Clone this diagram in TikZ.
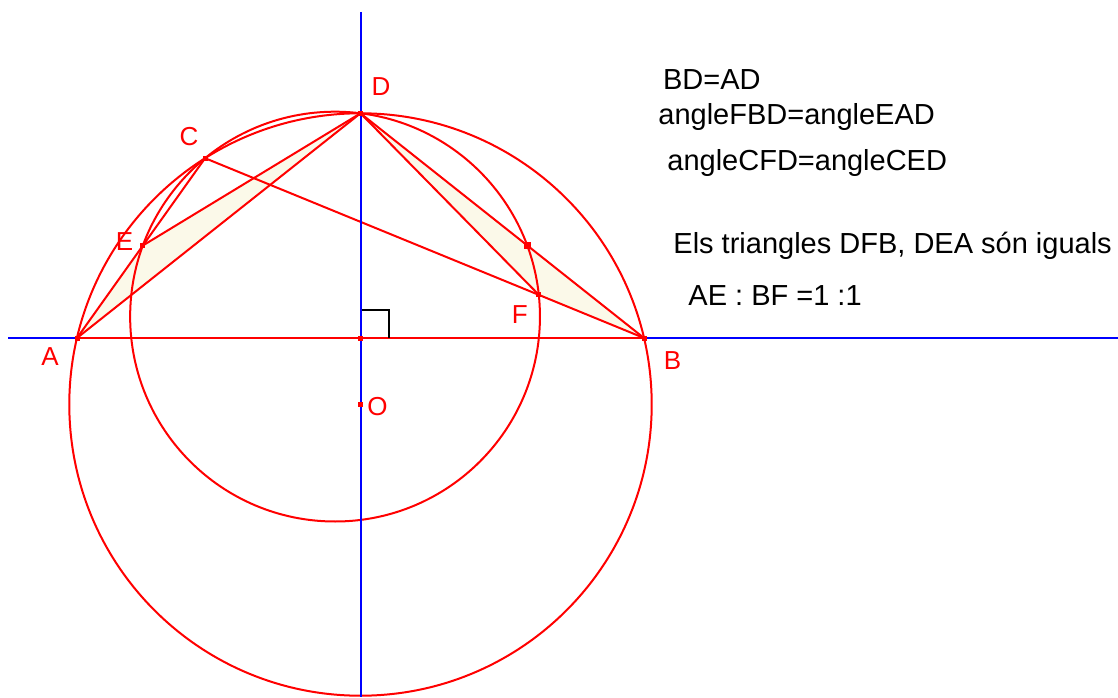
\documentclass[tikz,border=0pt]{standalone}
\usepackage{fontspec}
\setmainfont{Liberation Sans}
\definecolor{geored}{RGB}{255,0,0}
\definecolor{geoblue}{RGB}{0,0,255}
\definecolor{fillyel}{RGB}{251,249,233}
\begin{document}
\begin{tikzpicture}[x=0.5pt,y=0.5pt,
  redline/.style={draw=geored,line width=1pt,line join=round},
  axisline/.style={draw=geoblue,line width=1pt},
  pt/.style={rectangle,fill=geored,inner sep=0pt,minimum size=2.5pt},
  bigpt/.style={rectangle,fill=geored,inner sep=0pt,minimum size=3.5pt},
  lbl/.style={text=geored,font=\fontsize{13}{15}\selectfont,inner sep=0pt},
  txt/.style={anchor=base west,inner sep=0pt,font=\fontsize{14.5}{17}\selectfont},
  tri/.style={fill=fillyel},
  rightmark/.style={draw=black,line width=1pt}]
\useasboundingbox (0,0) rectangle (1118,697);
% points
\coordinate (O) at (360.5,292.5);
\coordinate (A) at (77,359);
\coordinate (B) at (644,359);
\coordinate (D) at (360.5,583.7);
\coordinate (C) at (205.1,538.8);
\coordinate (E) at (142.9,451.5);
\coordinate (F) at (538.9,402.1);
\coordinate (G) at (527.2,451.6);
\coordinate (M) at (360.5,359);
\coordinate (P) at (335.05,380.4);
% axis ends
\coordinate (HL) at (8,359);
\coordinate (HR) at (1118,359);
\coordinate (VT) at (360.5,685);
\coordinate (VB) at (360.5,0);
% right angle mark corners
\coordinate (R1) at (360.5,387);
\coordinate (R2) at (389,387);
\coordinate (R3) at (389,359);
% filled triangles
\fill[tri] (D) -- (E) -- (A) -- cycle;
\fill[tri] (D) -- (F) -- (B) -- cycle;
% horizontal axis
\draw[axisline] (HL) -- (HR);
% circles
\draw[redline] (O) circle[radius=291.2];
\draw[redline] (P) circle[radius=204.9];
% segments
\draw[redline] (A) -- (B);
\draw[redline] (A) -- (D) -- (B);
\draw[redline] (A) -- (E) -- (D) -- (F) -- (B);
\draw[redline] (C) -- (E);
\draw[redline] (C) -- (F);
% right angle
\draw[rightmark] (R1) -- (R2) -- (R3);
% vertical axis
\draw[axisline] (VT) -- (VB);
% point markers
\node[pt] at (A) {};
\node[pt] at (B) {};
\node[pt] at (C) {};
\node[pt] at (D) {};
\node[pt] at (E) {};
\node[pt] at (F) {};
\node[bigpt] at (G) {};
\node[pt] at (M) {};
\node[pt] at (O) {};
% labels
\node[lbl] (lA) at (50,340) {A};
\node[lbl] (lB) at (672.5,336) {B};
\node[lbl] (lC) at (189,560) {C};
\node[lbl] (lD) at (381,610) {D};
\node[lbl] (lE) at (124.5,455.5) {E};
\node[lbl] (lF) at (519.7,382) {F};
\node[lbl] (lO) at (377.5,290) {O};
% texts
\node[txt] (t1) at (662.7,607) {BD=AD};
\node[txt] (t2) at (658,572) {angleFBD=angleEAD};
\node[txt] (t3) at (667,526.3) {angleCFD=angleCED};
\node[txt] (t4) at (673,443) {Els triangles DFB, DEA són iguals};
\node[txt] (t5) at (688,392) {AE : BF =1 :1};
\end{tikzpicture}
\end{document}
